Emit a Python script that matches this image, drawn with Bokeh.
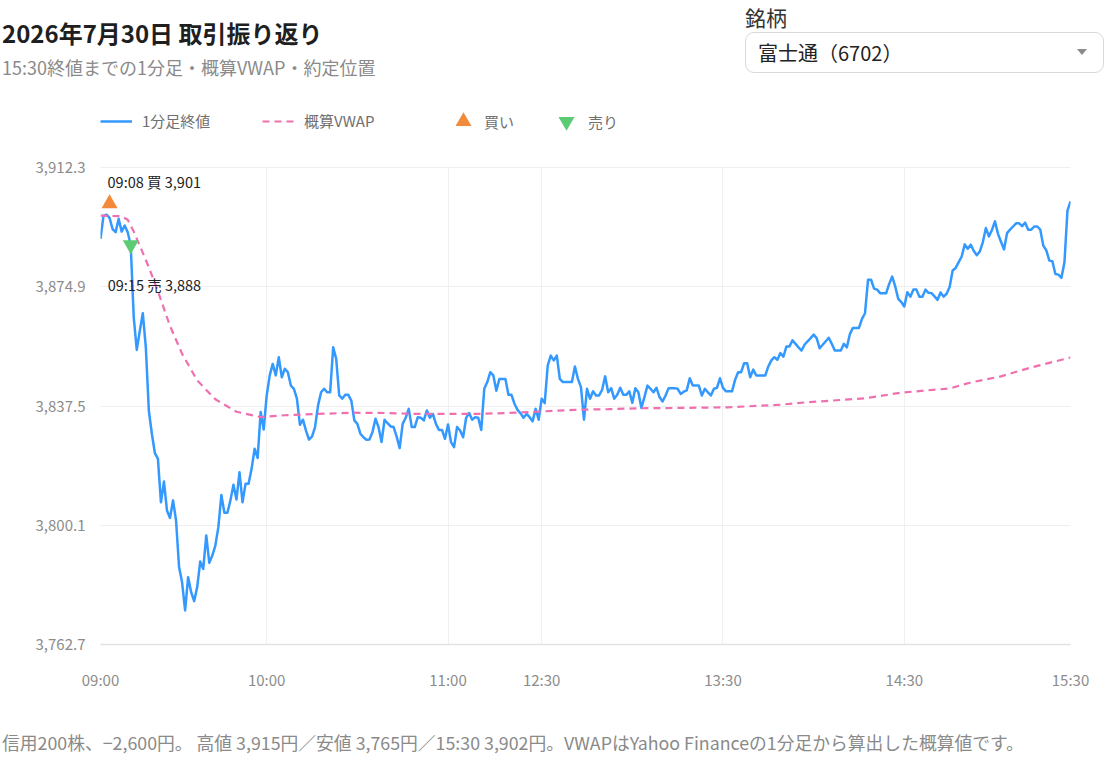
from bokeh.plotting import figure
from bokeh.layouts import column
from bokeh.models import (ColumnDataSource, Range1d, FixedTicker, NumeralTickFormatter,
                          Legend, LegendItem, Grid, Div)
from bokeh.core.properties import value
from bokeh.embed import file_html
from bokeh.resources import INLINE

FONT = "Noto Sans CJK JP"

title_text = "2026年7月30日 取引振り返り"
subtitle_text = "15:30終値までの1分足・概算VWAP・約定位置"
symbol_label = "銘柄"
symbol_choice = "富士通（6702）"
footer_text = ("信用200株、−2,600円。 高値 3,915円／安値 3,765円／15:30 3,902円。"
               "VWAPはYahoo Financeの1分足から算出した概算値です。")

# 1分足終値, one value per bar (bar 0 = 09:00 ... bar 321 = 15:30, lunch removed)
close = [
    3889.9, 3897.2, 3897.5, 3896.5, 3893.0, 3892.0, 3896.2, 3892.2, 3894.1, 3892.0,
    3888.0, 3865.3, 3855.1, 3861.0, 3866.6, 3855.9, 3836.0, 3828.8, 3822.7, 3821.0,
    3807.3, 3813.8, 3804.7, 3802.4, 3807.9, 3801.6, 3787.0, 3782.2, 3773.4, 3783.8,
    3779.1, 3776.3, 3780.7, 3788.7, 3786.4, 3796.9, 3788.3, 3790.6, 3793.7, 3799.5,
    3809.6, 3804.0, 3804.0, 3807.9, 3812.8, 3808.2, 3816.7, 3807.3, 3813.1, 3813.1,
    3817.8, 3824.1, 3821.2, 3835.6, 3830.1, 3840.8, 3847.1, 3850.7, 3847.1, 3852.8,
    3846.5, 3849.2, 3848.1, 3843.9, 3842.9, 3839.8, 3831.6, 3833.2, 3829.8, 3827.0,
    3827.9, 3830.9, 3837.7, 3841.8, 3842.9, 3841.8, 3841.8, 3855.9, 3852.3, 3840.8,
    3839.8, 3841.0, 3841.0, 3839.2, 3833.0, 3831.9, 3828.8, 3827.7, 3826.9, 3827.0,
    3829.3, 3833.5, 3830.9, 3826.2, 3833.2, 3832.1, 3831.1, 3830.9, 3827.9, 3824.3,
    3831.9, 3833.8, 3836.6, 3830.9, 3830.9, 3834.0, 3833.8, 3833.0, 3836.1, 3833.8,
    3835.0, 3831.9, 3830.0, 3830.0, 3827.2, 3831.7, 3826.2, 3824.6, 3830.9, 3829.8,
    3827.7, 3833.8, 3835.3, 3833.2, 3834.0, 3833.8, 3830.0, 3842.9, 3845.0, 3848.1,
    3847.1, 3842.3, 3846.0, 3846.0, 3846.0, 3841.0, 3841.0, 3838.2, 3836.3, 3835.2,
    3833.8, 3835.0, 3834.0, 3832.7, 3836.6, 3833.2, 3839.8, 3838.4, 3850.2, 3853.3,
    3851.8, 3853.3, 3846.0, 3845.0, 3845.0, 3845.0, 3845.0, 3849.9, 3846.0, 3843.4,
    3833.2, 3842.9, 3839.8, 3842.1, 3840.8, 3840.8, 3842.6, 3846.8, 3841.8, 3843.1,
    3839.8, 3841.0, 3843.2, 3841.0, 3841.0, 3842.1, 3838.5, 3843.1, 3841.8, 3836.9,
    3840.3, 3843.9, 3842.9, 3841.8, 3843.2, 3840.3, 3838.9, 3840.8, 3843.1, 3843.1,
    3843.1, 3842.9, 3841.3, 3842.0, 3842.4, 3846.2, 3843.9, 3843.9, 3843.9, 3840.8,
    3842.9, 3841.8, 3840.8, 3842.9, 3843.2, 3846.2, 3843.2, 3842.1, 3842.1, 3842.1,
    3845.7, 3848.1, 3848.1, 3850.9, 3850.9, 3846.5, 3848.9, 3847.1, 3847.1, 3847.1,
    3847.1, 3849.9, 3851.8, 3852.8, 3852.0, 3854.1, 3853.0, 3856.2, 3856.2, 3858.1,
    3857.0, 3855.9, 3854.9, 3856.7, 3857.8, 3858.8, 3859.9, 3858.8, 3855.6, 3856.7,
    3857.8, 3858.9, 3857.0, 3854.9, 3854.9, 3854.9, 3857.0, 3855.9, 3860.1, 3862.0,
    3862.0, 3862.0, 3864.8, 3866.6, 3877.1, 3877.1, 3874.3, 3874.0, 3872.9, 3872.9,
    3872.9, 3875.8, 3878.1, 3875.0, 3871.1, 3870.1, 3868.7, 3873.2, 3871.8, 3874.0,
    3874.0, 3871.8, 3871.8, 3874.0, 3873.0, 3872.9, 3871.9, 3870.8, 3873.1, 3871.8,
    3872.7, 3874.8, 3880.0, 3880.8, 3882.6, 3884.4, 3888.2, 3886.8, 3888.1, 3886.1,
    3884.8, 3886.0, 3888.9, 3893.3, 3890.7, 3892.7, 3895.4, 3891.5, 3889.0, 3886.6,
    3891.7, 3892.8, 3893.8, 3894.8, 3894.8, 3893.9, 3895.0, 3892.8, 3892.8, 3893.8,
    3893.8, 3892.8, 3887.8, 3886.3, 3883.1, 3882.9, 3878.9, 3878.7, 3877.7, 3882.6,
    3898.8, 3901.7,
]

# 概算VWAP read at a few bars
vwap_bar = [0, 7, 9, 11, 13, 16, 19, 23, 27, 32, 38, 45, 53, 61, 72, 83, 94, 105,
            116, 124, 135, 146, 157, 168, 179, 192, 208, 225, 234, 242, 253, 265,
            281, 288, 298, 308, 321]
vwap = [3897.2, 3897.0, 3895.9, 3892.2, 3887.8, 3881.0, 3873.5, 3862.6, 3853.9,
        3845.5, 3839.6, 3835.7, 3834.0, 3834.6, 3835.0, 3835.4, 3835.3, 3835.0,
        3835.0, 3835.0, 3835.3, 3835.8, 3836.3, 3836.5, 3836.8, 3836.9, 3837.1,
        3837.9, 3838.7, 3839.2, 3839.9, 3841.7, 3843.0, 3844.9, 3846.8, 3849.6,
        3852.7]

# 約定
trade_bar = [3, 10]
trade_time = ["09:08", "09:15"]
trade_side = ["買", "売"]
trade_price = [3901, 3888]

tick_bars = [0, 55, 115, 146, 206, 266, 321]
tick_labels = ["09:00", "10:00", "11:00", "12:30", "13:30", "14:30", "15:30"]
y_ticks = [3762.7, 3800.1, 3837.5, 3874.9, 3912.3]

PAGE_W = 1105
HEAD_H, CHART_H, FOOT_H = 90, 622, 43


def html_text(text, left, cy, size, color, weight="normal"):
    h = round(size * 1.6)
    return (f'<div style="position:absolute;left:{left}px;top:{cy - h / 2}px;height:{h}px;'
            f'line-height:{h}px;font-size:{size}px;font-weight:{weight};color:{color};'
            f'white-space:nowrap;">{text}</div>')


def html_box(inner, height):
    return (f'<div style="position:relative;width:{PAGE_W}px;height:{height}px;'
            f'font-family:\'{FONT}\';overflow:hidden;">{inner}</div>')


# ---- header: title, subtitle and the stock selector
selector = (
    '<div style="position:absolute;left:745px;top:32px;width:359px;height:41px;'
    'box-sizing:border-box;border:1px solid #d9d9d9;border-radius:9px;background:#fff;"></div>'
    + html_text(symbol_choice, 758, 53, 20, "#222222")
    + '<div style="position:absolute;left:1077px;top:49px;width:0;height:0;'
      'border-left:5px solid transparent;border-right:5px solid transparent;'
      'border-top:6px solid #8a8a8a;"></div>'
)
head = Div(text=html_box(
    html_text(title_text, 2, 33, 24, "#1f1f1f", weight="bold")
    + html_text(subtitle_text, 2, 67, 18, "#8a8a8a")
    + html_text(symbol_label, 745, 17, 21, "#333333")
    + selector, HEAD_H), width=PAGE_W, height=HEAD_H, margin=0)

# ---- chart
FL, FR, FT, FB = 100, 1070, 5, 554       # frame edges in chart canvas pixels
GRID_TOP, GRID_BOT = 77, 554              # where 3,912.3 and 3,762.7 sit
per_px = (y_ticks[-1] - y_ticks[0]) / (GRID_BOT - GRID_TOP)
y_top = y_ticks[-1] + (GRID_TOP - FT) * per_px

p = figure(width=PAGE_W, height=CHART_H, x_range=Range1d(0, 321),
           y_range=Range1d(y_ticks[0], y_top),
           output_backend="svg", toolbar_location=None,
           min_border_left=FL, min_border_right=PAGE_W - FR,
           min_border_top=FT, min_border_bottom=CHART_H - FB, margin=0)
p.outline_line_color = None
p.background_fill_color = "white"

p.xaxis.ticker = FixedTicker(ticks=tick_bars)
p.xaxis.major_label_overrides = dict(zip(tick_bars, tick_labels))
p.xaxis.axis_line_color = "#e2e2e2"
p.xaxis.axis_line_width = 1.5
p.xaxis.major_label_standoff = 18
p.yaxis.ticker = FixedTicker(ticks=y_ticks)
p.yaxis.formatter = NumeralTickFormatter(format="0,0.0")
p.yaxis.axis_line_color = None
p.yaxis.major_label_standoff = 9
for ax in (p.xaxis, p.yaxis):
    ax.major_tick_line_color = None
    ax.minor_tick_line_color = None
    ax.major_label_text_color = "#8c8c8c"
    ax.major_label_text_font = FONT
    ax.major_label_text_font_size = "15px"
p.ygrid.grid_line_color = "#efefef"
if "cross_bounds" in Grid.properties():
    p.xgrid.grid_line_color = "#f0f0f0"
    p.xgrid.cross_bounds = (y_ticks[0], y_ticks[-1])
else:
    p.xgrid.visible = False
    p.segment(tick_bars, [y_ticks[0]] * len(tick_bars), tick_bars,
              [y_ticks[-1]] * len(tick_bars), line_color="#f0f0f0", line_width=1)

# series
price_line = p.line(list(range(len(close))), close, color="#3399ff", line_width=2.5,
                    line_join="round")
vwap_line = p.line(vwap_bar, vwap, color="#f06fae", line_width=2.2, line_dash="7 5")

trade_label = [f"{t} {s} {v:,}" for t, s, v in zip(trade_time, trade_side, trade_price)]
buy = ColumnDataSource(dict(x=[trade_bar[0]], y=[trade_price[0]], label=[trade_label[0]]))
sell = ColumnDataSource(dict(x=[trade_bar[1]], y=[trade_price[1]], label=[trade_label[1]]))

buy_r = p.scatter("x", "y", source=buy, marker="triangle", size=16,
                  fill_color="#f28a3a", line_color=None)
sell_r = p.scatter("x", "y", source=sell, marker="inverted_triangle", size=16,
                   fill_color="#5ccb74", line_color=None)
p.text("x", "y", text="label", source=buy, x_offset=-2, y_offset=-22,
       text_font=value(FONT), text_font_size="14.5px", text_color="#222222",
       text_align="left", text_baseline="middle")
p.text("x", "y", text="label", source=sell, x_offset=-23, y_offset=40,
       text_font=value(FONT), text_font_size="14.5px", text_color="#222222",
       text_align="left", text_baseline="middle")

# legend row (one legend per item so the spacing follows the reference)
LEGEND_Y = 31


def add_legend(label, renderer, left, glyph_w, glyph_h, standoff):
    lg = Legend(items=[LegendItem(label=label, renderers=[renderer])],
                location=(left - FL, FB - LEGEND_Y - glyph_h / 2),
                glyph_width=glyph_w, glyph_height=glyph_h, label_height=glyph_h,
                label_standoff=standoff, padding=0, margin=0, spacing=0,
                border_line_color=None, background_fill_alpha=0,
                label_text_font=FONT, label_text_font_size="15px",
                label_text_color="#707070", label_text_baseline="middle")
    p.add_layout(lg)


add_legend("1分足終値", price_line, 100, 32, 20, 10)
add_legend("概算VWAP", vwap_line, 262, 32, 20, 10)
add_legend("買い", buy_r, 443, 40, 40, 1)
add_legend("売り", sell_r, 546, 40, 40, 2)

# ---- footer note
foot = Div(text=html_box(html_text(footer_text, 2, 30, 17.8, "#8a8a8a"), FOOT_H),
           width=PAGE_W, height=FOOT_H, margin=0)

page = column(head, p, foot)
open("out.html", "w").write(file_html(page, INLINE))
